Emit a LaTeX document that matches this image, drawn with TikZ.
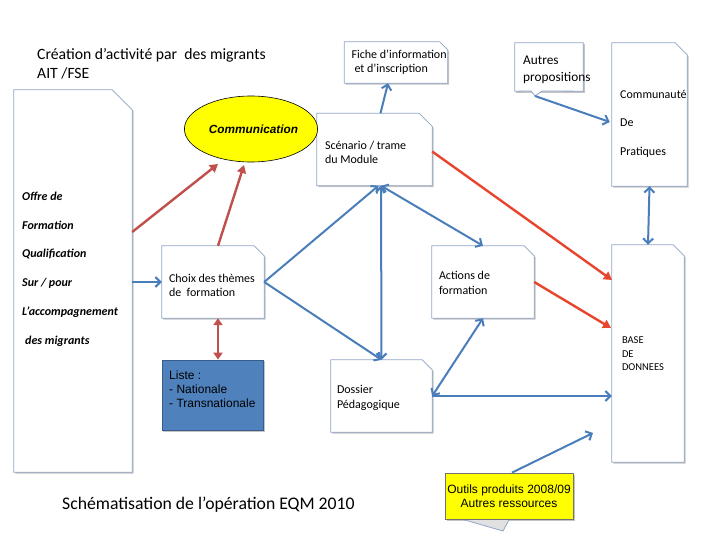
\documentclass[tikz,border=0pt]{standalone}
\usepackage{fontspec}
\setmainfont{Carlito}
\newfontfamily\arialf{Liberation Sans}
\usetikzlibrary{arrows.meta,calc,shapes.geometric}
\pgfdeclarelayer{bg}
\pgfsetlayers{bg,main}
\definecolor{arrblue}{HTML}{4A7EBB}
\definecolor{redA}{HTML}{C0504D}
\definecolor{redB}{HTML}{E8452F}
\definecolor{boxedgec}{HTML}{8FA6C6}
\definecolor{listefill}{HTML}{4F81BD}
\definecolor{listeline}{HTML}{385D8A}
\definecolor{shad}{HTML}{C4C4C4}
\definecolor{yel}{HTML}{FFFF00}
\newcommand\lbox[3]{\raisebox{#3}[0pt][0pt]{\makebox[#1][l]{\begin{tabular}{@{}l@{}}#2\end{tabular}}}}
\tikzset{
  docnode/.style={draw=none, inner sep=0pt, font=\fontsize{12}{14.5}\selectfont},
  boxedge/.style={draw=boxedgec, line width=0.8pt, fill=white},
  barrow/.style={draw=arrblue, line width=2pt, -{Straight Barb[length=5pt,width=10pt]}},
  bdouble/.style={draw=arrblue, line width=2pt, {Straight Barb[length=5pt,width=10pt]}-{Straight Barb[length=5pt,width=10pt]}},
  rarrow/.style={draw=redA, line width=2.4pt, -{Triangle[length=8pt,width=9pt]}},
  rarrowB/.style={draw=redB, line width=2.4pt, -{Triangle[length=8pt,width=9pt]}},
  rdouble/.style={draw=redA, line width=2.4pt, {Triangle[length=7pt,width=9pt]}-{Triangle[length=7pt,width=9pt]}},
  plaintext/.style={inner sep=0pt, anchor=west, align=left}
}
\newcommand\snipbox[2]{%
  \begin{pgfonlayer}{bg}
  \fill[shad] ($(#1.south west)+(1.5pt,-1.5pt)$) -- ($(#1.north west)+(1.5pt,-1.5pt)$)
    -- ($(#1.north east)+(-#2+1.5pt,-1.5pt)$) -- ($(#1.north east)+(1.5pt,-#2-1.5pt)$)
    -- ($(#1.south east)+(1.5pt,-1.5pt)$) -- cycle;
  \path[boxedge] (#1.south west) -- (#1.north west) -- ($(#1.north east)+(-#2,0pt)$)
    -- ($(#1.north east)+(0pt,-#2)$) -- (#1.south east) -- cycle;
  \end{pgfonlayer}}
\begin{document}
\begin{tikzpicture}[x=1pt,y=-1pt]
\useasboundingbox (0,0) rectangle (720,540);
\begin{pgfonlayer}{bg}
\fill[white] (0,0) rectangle (720,540);
\end{pgfonlayer}

% titles
\node[plaintext, font=\fontsize{15.7}{19}\selectfont] (title) at (37,64) {Création d’activité par\ \ des migrants\\AIT /FSE};
\node[plaintext, font=\fontsize{17.7}{21}\selectfont] (bottom) at (62,505) {Schématisation de l’opération EQM 2010};

% boxes
\node[docnode, minimum width=118pt, minimum height=382pt] (offre) at (73,281) {};
\node[plaintext, font=\bfseries\itshape\fontsize{12}{28.8}\selectfont] (offretxt) at (22,269)
  {Offre de\\Formation\\Qualification\\Sur / pour\\L’accompagnement\\\hspace{3pt}des migrants};
\node[ellipse, draw=black, line width=0.6pt, fill=yel, minimum width=128pt, minimum height=66pt, inner sep=0pt,
  font=\arialf\bfseries\itshape\fontsize{11.8}{14}\selectfont] (comm) at (251,129) {\hspace{5pt}Communication};
\node[docnode, minimum width=102pt, minimum height=72pt] (choix) at (213,282)
  {\lbox{88pt}{Choix des thèmes\\de\ \ formation}{-7.5pt}};
\node[draw=listeline, fill=listefill, line width=0.8pt, minimum width=101pt, minimum height=70pt, inner sep=0pt] (liste) at (212.5,395) {};
\node[plaintext, font=\arialf\fontsize{12}{14}\selectfont] (listetxt) at (169,389) {Liste :\\- Nationale\\- Transnationale};
\node[docnode, minimum width=115pt, minimum height=72pt] (scen) at (374.5,149.5)
  {\lbox{99pt}{Scénario / trame\\du Module}{-7pt}};
\node[docnode, minimum width=103pt, minimum height=41pt] (fiche) at (396,62.5)
  {\lbox{89pt}{Fiche d’information\\\hspace{3pt}et d’inscription}{-3pt}};
\node[draw=none, minimum width=68pt, minimum height=48pt, inner sep=0pt] (autres) at (549,67) {};
\node[plaintext, font=\fontsize{13.3}{16.5}\selectfont] (autrestxt) at (523,70) {Autres\\propositions};
\node[docnode, minimum width=75pt, minimum height=143pt] (commu) at (649.5,114.5) {};
\node[plaintext, font=\fontsize{12}{28.5}\selectfont] (commutxt) at (620,123.5) {Communauté\\De\\Pratiques};
\node[docnode, minimum width=102pt, minimum height=72pt] (actions) at (483,282)
  {\lbox{88pt}{Actions de\\formation}{-5pt}};
\node[docnode, minimum width=101pt, minimum height=72pt] (dossier) at (381.5,396)
  {\lbox{89pt}{Dossier\\Pédagogique}{-5pt}};
\node[docnode, minimum width=72pt, minimum height=217pt, font=\fontsize{10.5}{13.5}\selectfont] (base) at (648,353.5)
  {\lbox{52pt}{BASE\\DE\\DONNEES}{-4pt}};
\node[draw=black!55, fill=yel, line width=0.8pt, minimum width=128pt, minimum height=46pt, inner sep=0pt, align=center,
  font=\arialf\fontsize{12}{14}\selectfont] (outils) at (509,496) {Outils produits 2008/09\\Autres ressources};

\snipbox{offre}{20pt}
\snipbox{choix}{10pt}
\snipbox{scen}{13pt}
\snipbox{fiche}{8pt}
\snipbox{commu}{12pt}
\snipbox{actions}{10pt}
\snipbox{dossier}{10pt}
\snipbox{base}{11pt}

% callout shapes and shadows
\coordinate (autrestip) at (535,96);
\begin{pgfonlayer}{bg}
  \fill[shad] ($(liste.south west)+(1.5pt,-1.5pt)$) rectangle ($(liste.north east)+(1.5pt,-1.5pt)$);
  \fill[shad] ($(outils.south west)+(2pt,-2pt)$) rectangle ($(outils.north east)+(2pt,-2pt)$);
  \path[draw=boxedgec, line width=0.8pt, fill=shad!50] (458,518) -- (503,531) -- (510,518);
  \fill[shad] ($(autres.south west)+(1.5pt,-1.5pt)$) rectangle ($(autres.north east)+(1.5pt,-1.5pt)$);
  \path[boxedge] (autres.north west) -- (autres.north east) -- (autres.south east) -- (542,91)
     -- (autrestip) -- (531,91) -- (autres.south west) -- cycle;
\end{pgfonlayer}

% blue connectors
\coordinate (sj) at ($(scen.south)+(6.5pt,0pt)$);
\coordinate (outilsend) at (593,433);
\draw[barrow] (offre.east |- choix.west) -- (choix.west);
\draw[barrow] (choix.east) -- ($(scen.south)+(4pt,0pt)$);
\draw[barrow] (choix.east) -- (dossier.north);
\draw[bdouble] (sj) -- (dossier.north);
\draw[bdouble] (sj) -- (actions.north);
\draw[bdouble] (actions.south) -- (dossier.east);
\draw[barrow] (dossier.east) -- (dossier.east -| base.west);
\draw[barrow] ($(outils.north)+(3pt,0pt)$) -- (outilsend);
\draw[barrow] ($(scen.north)+(6pt,0pt)$) -- ($(fiche.south)+(-8pt,0pt)$);
\draw[barrow] (autrestip) -- ($(commu.west)+(-2pt,-7.5pt)$);
\draw[bdouble] (commu.south) -- (base.north);

% red connectors
\coordinate (c1) at (218,164);
\coordinate (c2) at (244,165);
\coordinate (b1) at (612,280);
\coordinate (b2) at (611,328);
\draw[rarrow] ($(offre.east)+(0pt,49pt)$) -- (c1);
\draw[rarrow] ($(choix.north)+(5pt,0pt)$) -- (c2);
\draw[rarrowB] ($(scen.east)+(0pt,-2pt)$) -- (b1);
\draw[rarrowB] (actions.east) -- (b2);
\draw[rdouble] ($(choix.south)+(5pt,0pt)$) -- ($(liste.north)+(5.5pt,0pt)$);
\end{tikzpicture}
\end{document}
